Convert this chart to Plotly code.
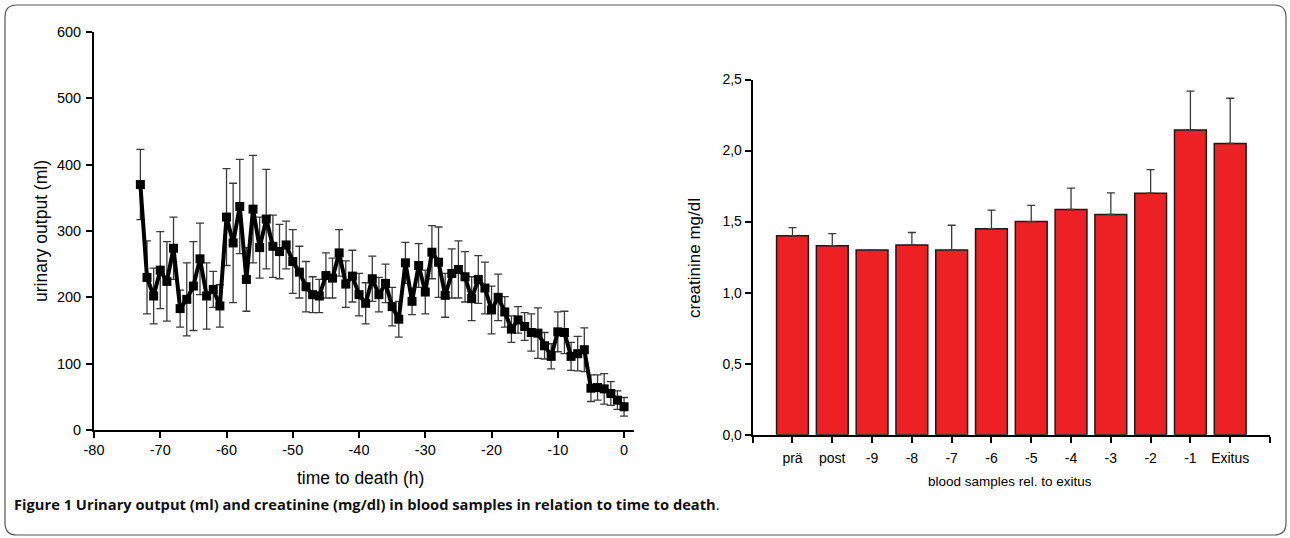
import plotly.graph_objects as go

# ---------------- data ----------------
hours = list(range(-73, 1))
urine = [370, 230, 202, 241, 224, 274, 183, 197, 217, 258,
         202, 212, 187, 321, 282, 337, 227, 333, 275, 318,
         277, 269, 279, 254, 238, 216, 204, 202, 233, 229,
         267, 220, 232, 204, 191, 228, 204, 221, 186, 167,
         252, 194, 248, 208, 268, 253, 203, 236, 242, 231,
         198, 227, 214, 181, 200, 178, 152, 166, 156, 147,
         146, 127, 111, 148, 147, 111, 115, 121, 63, 64,
         62, 55, 45, 35]
urine_err = [53, 55, 42, 58, 60, 47, 28, 55, 67, 54,
             50, 27, 32, 73, 90, 71, 48, 81, 46, 75,
             47, 41, 36, 48, 39, 38, 27, 25, 34, 30,
             35, 35, 39, 32, 31, 34, 26, 29, 29, 27,
             31, 20, 33, 33, 40, 53, 33, 37, 43, 38,
             33, 36, 39, 36, 35, 23, 20, 20, 21, 28,
             38, 20, 19, 30, 32, 21, 26, 33, 20, 19,
             23, 18, 14, 14]

samples = ["prä", "post", "-9", "-8", "-7", "-6", "-5", "-4", "-3", "-2", "-1", "Exitus"]
creat = [1.40, 1.33, 1.30, 1.335, 1.30, 1.45, 1.50, 1.585, 1.55, 1.70, 2.145, 2.05]
creat_err = [0.058, 0.085, 0.0, 0.088, 0.174, 0.13, 0.114, 0.15, 0.152, 0.165, 0.273, 0.318]

left_yticks = [0, 100, 200, 300, 400, 500, 600]
left_xticks = [-80, -70, -60, -50, -40, -30, -20, -10, 0]
left_xtext = ["-80", "-70", "-60", "-50", "-40", "-30", "-20", "-10", "0"]
right_yticks = [0.0, 0.5, 1.0, 1.5, 2.0, 2.5]
right_ytext = ["0,0", "0,5", "1,0", "1,5", "2,0", "2,5"]

W, H = 1290, 538
FONT = "Liberation Sans, Arial, sans-serif"

def px(x):
    return x / W

def py(y):
    return (H - y) / H

fig = go.Figure()

fig.add_trace(go.Scatter(
    x=hours, y=urine, mode="lines+markers",
    line=dict(color="black", width=4),
    marker=dict(symbol="square", size=9, color="black"),
    error_y=dict(type="data", array=urine_err, visible=True,
                 color="#3a3a3a", thickness=1.3, width=4),
    xaxis="x", yaxis="y", showlegend=False,
))

cat_pos = list(range(len(samples)))
fig.add_trace(go.Bar(
    x=cat_pos, y=creat, width=0.8,
    marker=dict(color="#ED2024", line=dict(color="#1a1a1a", width=1.5)),
    error_y=dict(type="data", array=creat_err, arrayminus=[0] * len(creat),
                 symmetric=False, visible=True, color="#3a3a3a",
                 thickness=1.3, width=4),
    xaxis="x2", yaxis="y2", showlegend=False,
))

axis_common = dict(showline=True, linecolor="black", linewidth=2,
                   ticks="outside", ticklen=6, tickwidth=2, tickcolor="black",
                   showgrid=False, zeroline=False, automargin=False)
left_font = dict(family=FONT, size=14.5, color="black")
right_font = dict(family=FONT, size=14, color="black")

fig.update_layout(
    template="none",
    width=W, height=H,
    margin=dict(l=0, r=0, t=0, b=0, pad=0),
    paper_bgcolor="white", plot_bgcolor="white",
    font=dict(family=FONT, color="black"),
    xaxis=dict(domain=[px(94), px(634)], range=[-80, 1.5], tickfont=left_font,
               tickvals=left_xticks, ticktext=left_xtext, anchor="y", **axis_common),
    yaxis=dict(domain=[py(430), py(32)], range=[0, 600], tickfont=left_font,
               tickvals=left_yticks, anchor="x", ticklabelstandoff=2, **axis_common),
    xaxis2=dict(domain=[px(752.7), px(1270)], range=[-1, 12], tickfont=right_font,
                tickvals=list(range(-1, 13)), ticklabelstandoff=3,
                ticktext=[""] + samples + [""], anchor="y2", **axis_common),
    yaxis2=dict(domain=[py(434.7), py(79.5)], range=[0, 2.5], tickfont=right_font,
                tickvals=right_yticks, ticktext=right_ytext, anchor="x2", **axis_common),
    bargap=0.2,
)

ann = []
ann.append(dict(text="urinary output (ml)", x=px(41), y=py(231), xref="paper", yref="paper",
                textangle=-90, showarrow=False, font=dict(family=FONT, size=17.5),
                xanchor="center", yanchor="middle"))
ann.append(dict(text="time to death (h)", x=px(360), y=py(478), xref="paper", yref="paper",
                showarrow=False, font=dict(family=FONT, size=17.5),
                xanchor="center", yanchor="middle"))
ann.append(dict(text="creatinine mg/dl", x=px(694), y=py(258), xref="paper", yref="paper",
                textangle=-90, showarrow=False, font=dict(family=FONT, size=17),
                xanchor="center", yanchor="middle"))
ann.append(dict(text="blood samples rel. to exitus", x=px(1010), y=py(481), xref="paper", yref="paper",
                showarrow=False, font=dict(family=FONT, size=13.5),
                xanchor="center", yanchor="middle"))
ann.append(dict(text="<b>Figure 1 Urinary output (ml) and creatinine (mg/dl) in blood samples in relation to time to death</b>.",
                x=px(12), y=py(504), xref="paper", yref="paper",
                showarrow=False, font=dict(family="Open Sans, sans-serif", size=14.7, color="#111"),
                xanchor="left", yanchor="middle"))
fig.update_layout(annotations=ann)

# rounded frame
L, R, T, B, r = 5, 1286, 5, 535, 12
def P(x, y):
    return f"{px(x):.5f},{py(y):.5f}"
path = (f"M {P(L + r, T)} L {P(R - r, T)} Q {P(R, T)} {P(R, T + r)} "
        f"L {P(R, B - r)} Q {P(R, B)} {P(R - r, B)} "
        f"L {P(L + r, B)} Q {P(L, B)} {P(L, B - r)} "
        f"L {P(L, T + r)} Q {P(L, T)} {P(L + r, T)} Z")
fig.add_shape(type="path", path=path, xref="paper", yref="paper",
              line=dict(color="#555", width=1.2), fillcolor="rgba(0,0,0,0)")

fig.write_html("out.html", config={"displayModeBar": False},
               post_script="document.body.style.margin='0';document.body.style.overflow='hidden';")
